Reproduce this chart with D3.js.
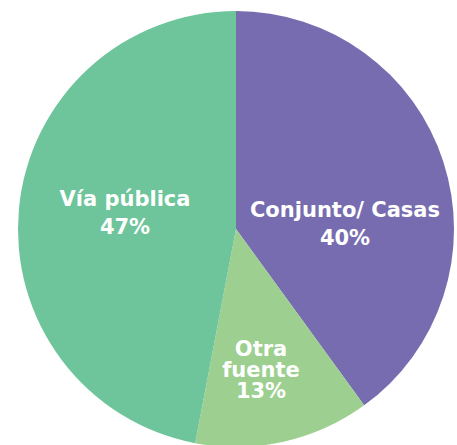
<!DOCTYPE html>
<html lang="es">
<head>
  <meta charset="UTF-8">
  <title>Pie</title>
  <script src="https://d3js.org/d3.v7.min.js"></script>
  <style>
    body { margin: 0; background: #fff; }
    .label {
      font-family: "DejaVu Sans", sans-serif;
      font-weight: 700;
      font-size: 21px;
      fill: #fff;
      text-anchor: middle;
    }
  </style>
</head>
<body>
  <div id="chart"></div>
  <script>
    // data
    const categories = ["Conjunto/ Casas", "Otra fuente", "Vía pública"];
    const values = [40, 13, 47];
    const labelLines = [["Conjunto/ Casas"], ["Otra", "fuente"], ["Vía pública"]];
    const colors = ["#776caf", "#9ccf90", "#6ec59b"];

    // where the labels sit, relative to the centre (x, first baseline, line step)
    const labelPos = [[109, -12, 27.6], [25, 127, 20.8], [-111, -23, 27.6]];

    const width = 457, height = 445;
    const cx = 236, cy = 229, r = 218;

    const svg = d3.select("#chart")
                  .append("svg")
                  .attr("width", width)
                  .attr("height", height);

    const g = svg.append("g")
                 .attr("transform", `translate(${cx},${cy})`);

    const pie = d3.pie().sort(null).value(d => d);
    const arc = d3.arc().innerRadius(0).outerRadius(r);
    const arcs = pie(values);

    g.selectAll("path")
     .data(arcs)
     .enter()
     .append("path")
     .attr("d", arc)
     .attr("fill", (d, i) => colors[i]);

    // labels
    const labels = g.selectAll(".label")
      .data(arcs)
      .enter()
      .append("text")
      .attr("class", "label")
      .attr("transform", (d, i) => `translate(${labelPos[i][0]},${labelPos[i][1]})`);

    labels.each(function(d, i) {
      const t = d3.select(this);
      const lines = labelLines[i].concat([values[i] + "%"]);
      lines.forEach((line, k) => {
        t.append("tspan")
         .attr("x", 0)
         .attr("y", k * labelPos[i][2])
         .text(line);
      });
    });
  </script>
</body>
</html>
